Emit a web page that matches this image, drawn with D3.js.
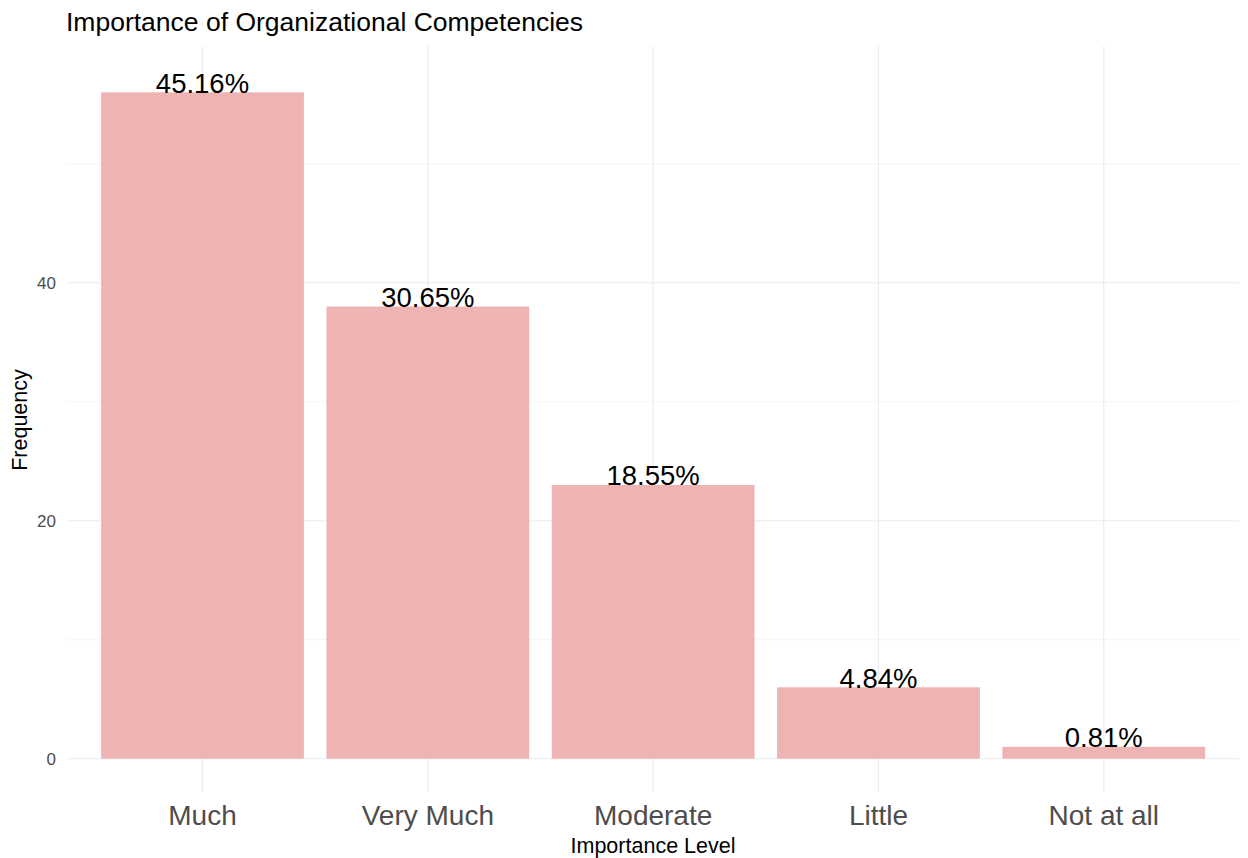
<!DOCTYPE html>
<html><head><meta charset="utf-8">
<script src="https://cdn.jsdelivr.net/npm/d3@7"></script>
<style>body{margin:0;background:#fff}svg{display:block;font-family:"Liberation Sans",Arial,sans-serif}</style>
</head><body>
<svg id="c" width="1248" height="858"></svg>
<script>
const categories = ["Much","Very Much","Moderate","Little","Not at all"];
const frequencies = [56,38,23,6,1];
const percentLabels = ["45.16%","30.65%","18.55%","4.84%","0.81%"];
const yMajorTicks = [0,20,40];
const yMinorTicks = [10,30,50];

const svg = d3.select("#c");
const L = 67.3, R = 1239, T = 59, B = 792, GT = 46;
const maxV = d3.max(frequencies);
const y = d3.scaleLinear().domain([-0.05*maxV, maxV*1.05]).range([B, T]);
const step = (R - L) / (categories.length + 0.2);
const x = d3.scaleBand().domain(categories).range([L + 0.6*step - step/2, R - 0.6*step + step/2]).paddingInner(0.1).paddingOuter(0.05);
const cx = d => x(d) + x.bandwidth()/2;

const g = svg.append("g");
g.selectAll(".ymin").data(yMinorTicks).join("line")
  .attr("x1", L).attr("x2", R).attr("y1", d=>y(d)).attr("y2", d=>y(d))
  .attr("stroke", "#f2f2f2").attr("stroke-width", 0.8);
g.selectAll(".ymaj").data(yMajorTicks).join("line")
  .attr("x1", L).attr("x2", R).attr("y1", d=>y(d)).attr("y2", d=>y(d))
  .attr("stroke", "#ebebeb").attr("stroke-width", 1.1);
g.selectAll(".xmaj").data(categories).join("line")
  .attr("x1", d=>cx(d)).attr("x2", d=>cx(d)).attr("y1", GT).attr("y2", B)
  .attr("stroke", "#ebebeb").attr("stroke-width", 1.1);

g.selectAll(".bar").data(categories).join("rect")
  .attr("x", d=>x(d)).attr("width", x.bandwidth())
  .attr("y", (d,i)=>y(frequencies[i])).attr("height", (d,i)=>y(0)-y(frequencies[i]))
  .attr("fill", "#eeb4b4");

g.selectAll(".lab").data(categories).join("text")
  .attr("x", d=>cx(d)).attr("y", (d,i)=>y(frequencies[i]) + 0.5)
  .attr("text-anchor", "middle").attr("font-size", 27.5).attr("fill", "#000")
  .text((d,i)=>percentLabels[i]);

g.selectAll(".yt").data(yMajorTicks).join("text")
  .attr("x", 56).attr("y", d=>y(d)).attr("dy", "0.35em")
  .attr("text-anchor", "end").attr("font-size", 17).attr("fill", "#4d4d4d")
  .text(d=>d);

g.selectAll(".xt").data(categories).join("text")
  .attr("x", d=>cx(d)).attr("y", 825)
  .attr("text-anchor", "middle").attr("font-size", 28).attr("fill", "#4d4d4d")
  .text(d=>d);

svg.append("text").attr("x", 653).attr("y", 853).attr("text-anchor", "middle")
  .attr("font-size", 21.5).attr("fill", "#000").text("Importance Level");
svg.append("text").attr("transform", "translate(27," + 420 + ") rotate(-90)")
  .attr("text-anchor", "middle").attr("font-size", 21.5).attr("fill", "#000").text("Frequency");
svg.append("text").attr("x", 66).attr("y", 31)
  .attr("font-size", 26.5).attr("fill", "#000").text("Importance of Organizational Competencies");
</script>
</body></html>
